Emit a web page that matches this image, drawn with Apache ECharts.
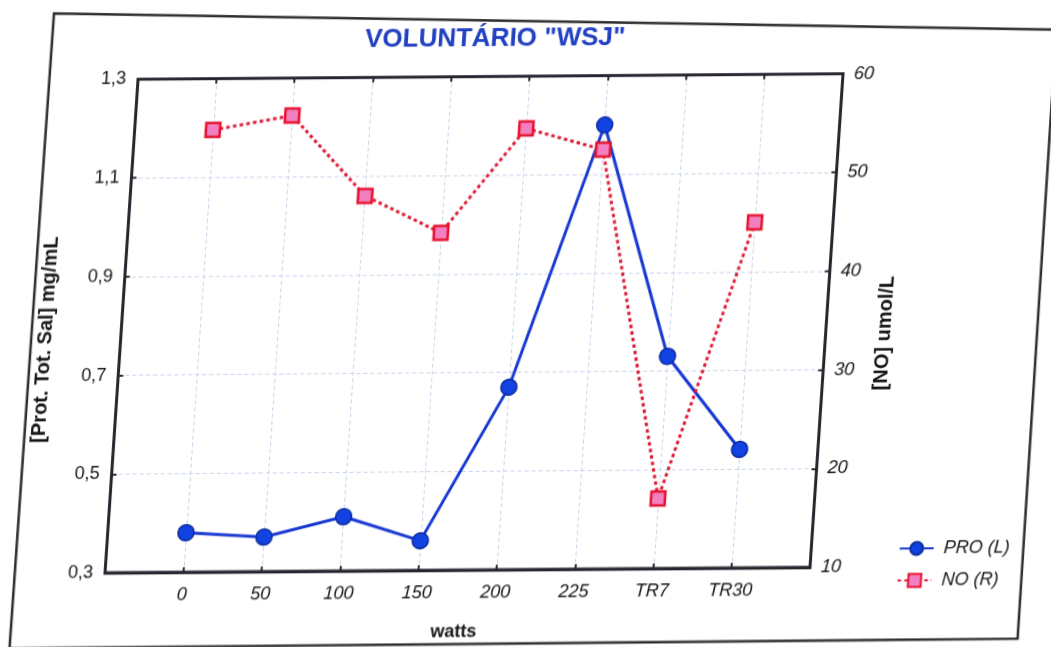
<!DOCTYPE html>
<html>
<head>
<meta charset="utf-8">
<script src="https://cdn.jsdelivr.net/npm/echarts@6/dist/echarts.min.js"></script>
<style>
  html, body { margin: 0; padding: 0; background: #ffffff; overflow: hidden; }
  /* the sheet is slightly sheared, as on a scanned page */
  #chart {
    width: 1051px; height: 647px;
    transform-origin: 474px 323px;
    transform: matrix(1, -0.0078, -0.0669, 1, 0, 0);
  }
</style>
</head>
<body>
<div id="chart"></div>
<script>
// Workload stages on the x axis
const categories = ['0', '50', '100', '150', '200', '225', 'TR7', 'TR30'];
// Total salivary protein, mg/mL (left axis)
const proValues = [0.38, 0.37, 0.41, 0.36, 0.67, 1.20, 0.73, 0.54];
// Nitric oxide, umol/L (right axis)
const noValues = [54.8, 56.2, 48.0, 44.2, 54.7, 52.5, 17.1, 45.0];

const seriesNames = ['PRO (L)', 'NO (R)'];
const titleText = 'VOLUNTÁRIO "WSJ"';
const xAxisName = 'watts';
const leftAxisName = '[Prot. Tot. Sal] mg/mL';
const rightAxisName = '[NO] umol/L';

const FONT = '"Liberation Sans", Arial, Helvetica, sans-serif';
const INK = '#141418';
const FRAME = '#26262f';
const GRID = '#c6d3ea';

const chart = echarts.init(document.getElementById('chart'), null, { renderer: 'canvas' });

const catLabel = v => (v >= 0 && v < categories.length && Number.isInteger(v)) ? categories[v] : '';
const commaDecimal = v => v.toFixed(1).replace('.', ',');

const tickStyle = { inside: true, length: 5, lineStyle: { color: FRAME, width: 2 } };
const frameLine = { show: true, onZero: false, lineStyle: { color: FRAME, width: 3 } };
const gridLine = { show: true, lineStyle: { color: GRID, width: 1, type: [4, 3] } };
const nameStyle = { fontFamily: FONT, fontSize: 20, fontWeight: 'bold', color: INK };

chart.setOption({
  backgroundColor: '#ffffff',
  animation: false,
  textStyle: { fontFamily: FONT },
  title: {
    text: titleText,
    left: 476, top: 26, padding: 0,
    textAlign: 'center',
    textStyle: { fontFamily: FONT, fontSize: 26, fontWeight: 'bold', color: '#2040c2' }
  },
  graphic: [{
    type: 'polygon',
    silent: true,
    z: -1,
    shape: { points: [[33, 10], [1037, 34], [1039, 643], [31, 645]] },
    style: { fill: 'none', stroke: '#2b2b30', lineWidth: 2.5 }
  }],
  grid: {
    left: 121.5, top: 76.5, width: 705, height: 493.5,
    show: true, borderColor: FRAME, borderWidth: 3, backgroundColor: 'transparent'
  },
  legend: {
    orient: 'vertical',
    left: 914, top: 543, padding: 0,
    itemWidth: 34, itemHeight: 16, itemGap: 14,
    data: seriesNames,
    textStyle: { fontFamily: FONT, fontSize: 18, fontStyle: 'italic', color: INK, padding: [0, 0, 0, 5] }
  },
  xAxis: [{
    type: 'value', min: -1, max: 8, interval: 1, position: 'bottom',
    name: xAxisName, nameLocation: 'middle', nameGap: 53,
    nameTextStyle: { fontFamily: FONT, fontSize: 18, fontWeight: 'bold', color: INK },
    axisLine: frameLine,
    axisTick: tickStyle,
    axisLabel: { margin: 14, fontSize: 18, fontStyle: 'italic', color: INK, formatter: catLabel },
    splitLine: gridLine
  }, {
    type: 'value', min: -1, max: 8, interval: 1, position: 'top',
    axisLine: frameLine,
    axisTick: tickStyle,
    axisLabel: { show: false },
    splitLine: { show: false }
  }],
  yAxis: [{
    type: 'value', min: 0.3, max: 1.3, interval: 0.2, position: 'left',
    name: leftAxisName, nameLocation: 'middle', nameGap: 65, nameRotate: 90,
    nameTextStyle: Object.assign({ padding: [0, 26, 0, 0] }, nameStyle),
    axisLine: frameLine,
    axisTick: tickStyle,
    axisLabel: { margin: 12, fontSize: 18, color: INK, formatter: commaDecimal },
    splitLine: gridLine
  }, {
    type: 'value', min: 10, max: 60, interval: 10, position: 'right',
    name: rightAxisName, nameLocation: 'middle', nameGap: 49, nameRotate: 90,
    nameTextStyle: Object.assign({ padding: [0, 26, 0, 0] }, nameStyle),
    axisLine: frameLine,
    axisTick: tickStyle,
    axisLabel: { margin: 11, fontSize: 18, fontStyle: 'italic', color: INK },
    splitLine: { show: false }
  }],
  series: [{
    name: seriesNames[0],
    type: 'line',
    xAxisIndex: 0, yAxisIndex: 0,
    data: proValues.map((v, i) => [i, v]),
    symbol: 'circle', symbolSize: 16,
    lineStyle: { color: '#1636d2', width: 3 },
    itemStyle: { color: '#1242e2', borderColor: '#0b2a9c', borderWidth: 1.5 },
    z: 3
  }, {
    name: seriesNames[1],
    type: 'line',
    xAxisIndex: 0, yAxisIndex: 1,
    data: noValues.map((v, i) => [i, v]),
    symbol: 'rect', symbolSize: 14,
    lineStyle: { color: '#dd1530', width: 3, type: [3.5, 3.2], cap: 'butt' },
    itemStyle: { color: '#f27fbf', borderColor: '#e6102c', borderWidth: 2.5 },
    z: 4
  }]
});
</script>
</body>
</html>
